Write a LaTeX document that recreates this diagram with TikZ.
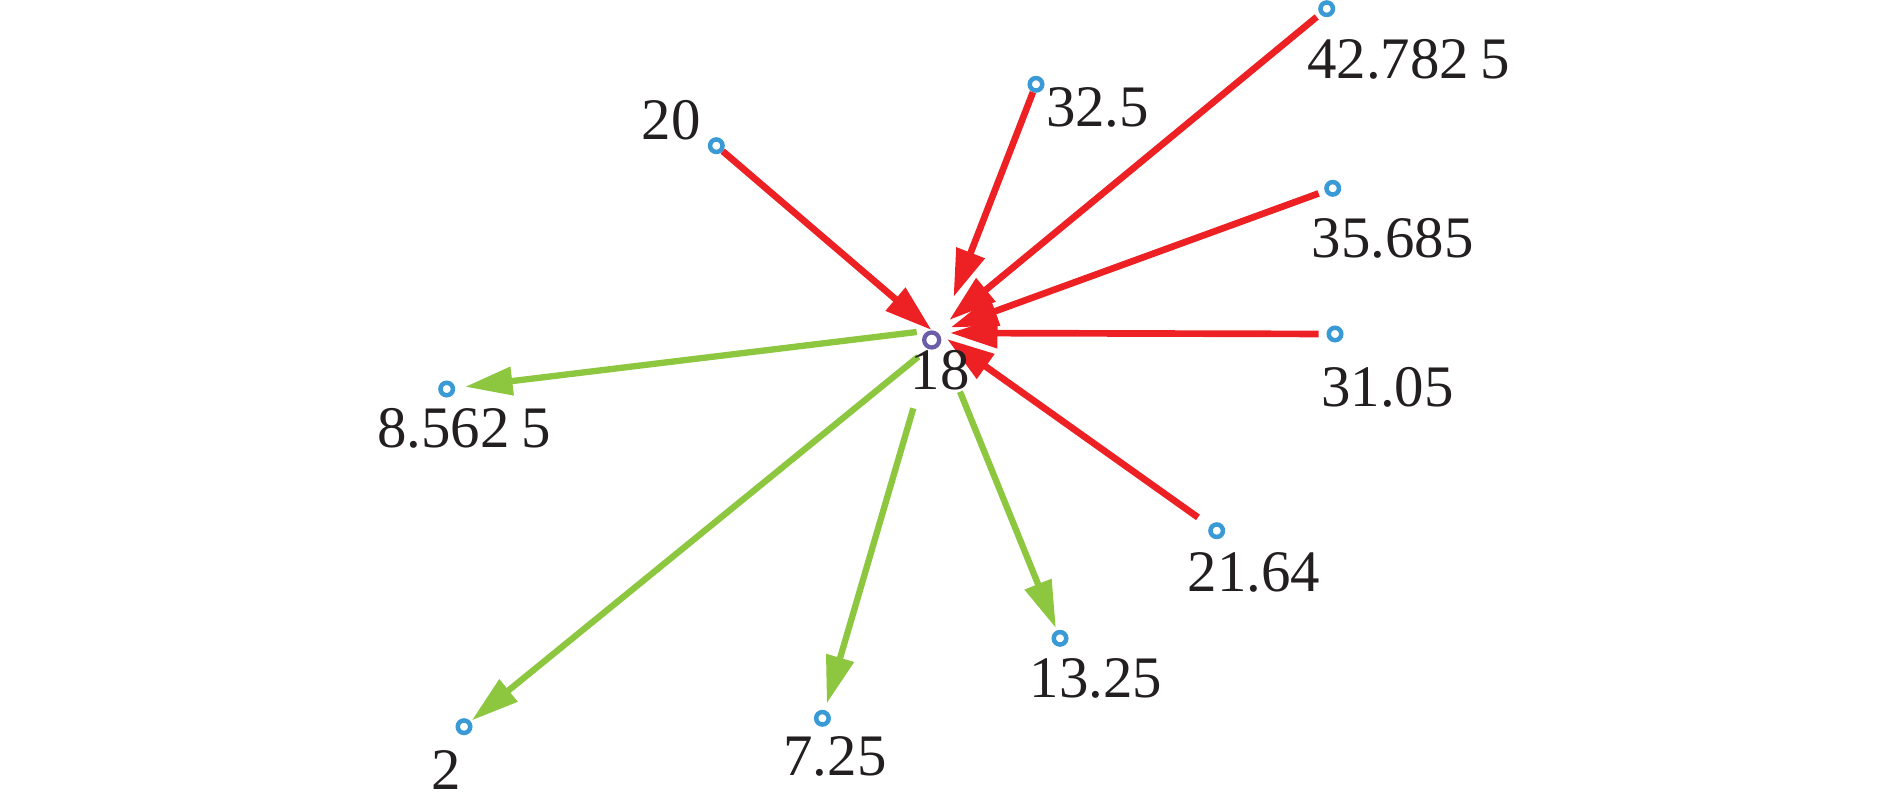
\documentclass[tikz,border=0pt]{standalone}
\usepackage{fontspec}
\setmainfont{Liberation Serif}
\usetikzlibrary{arrows.meta}
\definecolor{redarr}{RGB}{237,32,36}
\definecolor{greenarr}{RGB}{141,198,63}
\definecolor{leafblue}{RGB}{58,154,214}
\definecolor{hubpurple}{RGB}{108,93,168}
\definecolor{txt}{RGB}{35,31,32}
\tikzset{
  leaf/.style={circle,draw=leafblue,line width=0.09cm,minimum size=0.25cm,inner sep=0pt,fill=white},
  hub/.style={circle,draw=hubpurple,line width=0.085cm,minimum size=0.3cm,inner sep=0pt,fill=white},
  lbl/.style={inner sep=0pt,text=txt,font=\fontsize{33.5}{40}\selectfont},
  inarr/.style={draw=redarr,line width=3.8pt,-{Triangle[length=0.95cm,width=0.58cm]}},
  outarr/.style={draw=greenarr,line width=3.6pt,-{Triangle[length=0.95cm,width=0.55cm]}}
}
\newcommand{\tsp}{\hspace{0.2em}}
\begin{document}
\begin{tikzpicture}[x=0.02cm,y=-0.02cm]
\useasboundingbox (0,0) rectangle (1890,808);
% hub
\coordinate (C) at (931.7,340);
% red tips
\coordinate (t20) at (931.5,330);
\coordinate (t32) at (953.5,297);
\coordinate (t42) at (949.3,320);
\coordinate (t35) at (950.5,327.5);
\coordinate (t31) at (950,333);
\coordinate (t21) at (947,339);
% green starts
\coordinate (s8) at (916.7,332);
\coordinate (s2) at (918.3,356.7);
\coordinate (s7) at (913.3,408.3);
\coordinate (s13) at (960,391.7);
% leaves
\node[leaf] (n20) at (716.3,145.7) {};
\node[leaf] (n32) at (1036,84.3) {};
\node[leaf] (n42) at (1326.7,8.7) {};
\node[leaf] (n35) at (1332.7,188.3) {};
\node[leaf] (n31) at (1335,334) {};
\node[leaf] (n21) at (1216.7,530.7) {};
\node[leaf] (n13) at (1060,638.3) {};
\node[leaf] (n7) at (822.4,718.3) {};
\node[leaf] (n2) at (464,726.7) {};
\node[leaf] (n8) at (446.7,389) {};
% red arrows
\draw[inarr] (n20) -- (t20);
\draw[inarr] (n32) -- (t32);
\draw[inarr,shorten <=0.09cm] (n42) -- (t42);
\draw[inarr,shorten <=0.13cm] (n35) -- (t35);
\draw[inarr,shorten <=0.16cm] (n31) -- (t31);
\draw[inarr,shorten <=0.29cm] (n21) -- (t21);
% green arrows
\draw[outarr,shorten >=0.2cm] (s8) -- (n8);
\draw[outarr,shorten >=0.03cm] (s2) -- (n2);
\draw[outarr,shorten >=0.14cm] (s7) -- (n7);
\draw[outarr,shorten >=0.05cm] (s13) -- (n13);
% hub node
\node[hub] (hub) at (C) {};
% labels
\node[lbl] (l18) at (940,370.5) {18};
\node[lbl] (l20) at (671,120) {20};
\node[lbl] (l32) at (1097.5,107.5) {32.5};
\node[lbl] (l42) at (1408.8,59) {42.782\tsp 5};
\node[lbl] (l35) at (1392.5,238) {35.685};
\node[lbl] (l31) at (1387.5,387.5) {31.05};
\node[lbl] (l21) at (1254,572) {21.64};
\node[lbl] (l13) at (1096,678) {13.25};
\node[lbl] (l7) at (835,756.7) {7.25};
\node[lbl] (l2) at (446.7,770) {2};
\node[lbl] (l8) at (464,428) {8.562\tsp 5};
\end{tikzpicture}
\end{document}
